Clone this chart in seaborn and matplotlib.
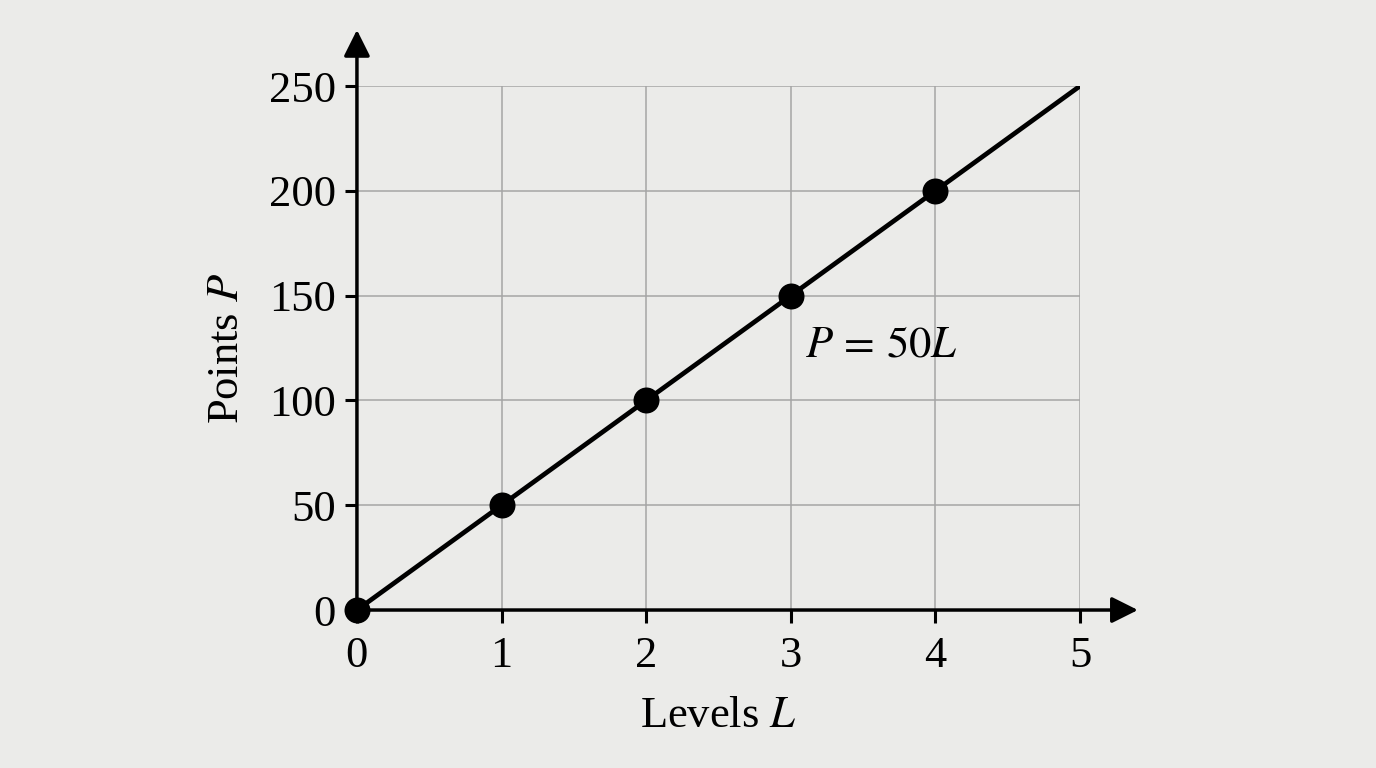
import numpy as np
import pandas as pd
import seaborn as sns
import matplotlib.pyplot as plt

# data
levels = [0, 1, 2, 3, 4, 5]
points = [0, 50, 100, 150, 200, 250]
marked_levels = [0, 1, 2, 3, 4]
marked_points = [0, 50, 100, 150, 200]
x_ticks = [0, 1, 2, 3, 4, 5]
y_ticks = [0, 50, 100, 150, 200, 250]

sns.set_theme(style="ticks")
plt.rcParams['font.family'] = ['Liberation Serif', 'DejaVu Serif']
plt.rcParams['mathtext.fontset'] = 'stix'
plt.rcParams['text.color'] = 'black'
plt.rcParams['axes.labelcolor'] = 'black'
plt.rcParams['xtick.labelcolor'] = 'black'
plt.rcParams['ytick.labelcolor'] = 'black'

bg = '#ebebe9'
fig = plt.figure(figsize=(13.76, 7.68), dpi=100, facecolor=bg)
ax = fig.add_axes([0.2594, 0.2057, 0.5255, 0.6823])
ax.set_facecolor(bg)

line_df = pd.DataFrame({'L': levels, 'P': points})
pts_df = pd.DataFrame({'L': marked_levels, 'P': marked_points})

sns.lineplot(data=line_df, x='L', y='P', ax=ax, color='black', lw=3.4, zorder=3)
sns.scatterplot(data=pts_df, x='L', y='P', ax=ax, color='black', s=300,
                edgecolor='black', zorder=4, clip_on=False)

ax.set_xlim(0, 5)
ax.set_ylim(0, 250)
ax.set_xticks(x_ticks)
ax.set_yticks(y_ticks)
ax.grid(True, color='#a5a5a5', lw=1.1)

for s in ax.spines.values():
    s.set_visible(False)

fs = 32
ax.tick_params(axis='both', direction='out', length=9, width=2.2, color='black',
               labelsize=fs)
ax.tick_params(axis='x', pad=10)
ax.tick_params(axis='y', pad=6)

# axis arrows
ax.annotate('', xy=(0, 1.107), xytext=(0, 0), xycoords='axes fraction',
            arrowprops=dict(arrowstyle='-|>', lw=2.5, color='black', mutation_scale=40,
                            shrinkA=0, shrinkB=0), annotation_clip=False, zorder=2)
ax.annotate('', xy=(1.08, 0), xytext=(0, 0), xycoords='axes fraction',
            arrowprops=dict(arrowstyle='-|>', lw=2.5, color='black', mutation_scale=40,
                            shrinkA=0, shrinkB=0), annotation_clip=False, zorder=2)

ax.set_xlabel('Levels $L$', fontsize=fs, labelpad=14)
ax.set_ylabel('Points $P$', fontsize=fs, labelpad=16)

ax.text(3.1, 126, '$P\\,=\\,50L$', fontsize=fs, ha='left', va='center')

fig.savefig('out.png', dpi=100, facecolor=bg)
